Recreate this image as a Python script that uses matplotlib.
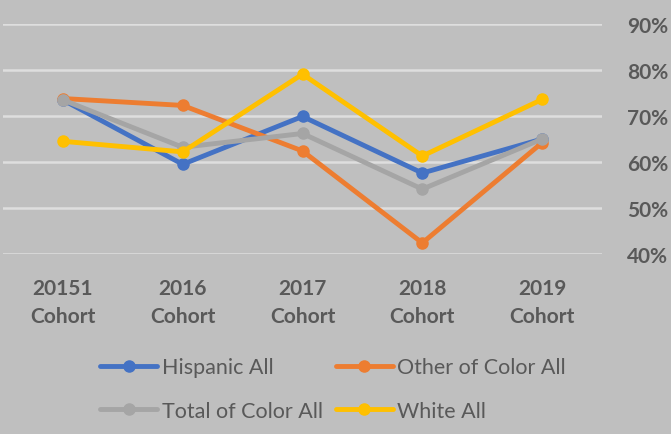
import numpy as np
import matplotlib.pyplot as plt
from matplotlib.ticker import PercentFormatter

# данные графика
cohorts = ['20151\nCohort', '2016\nCohort', '2017\nCohort', '2018\nCohort', '2019\nCohort']
hispanic = [0.735, 0.595, 0.699, 0.576, 0.650]
other_color = [0.738, 0.723, 0.624, 0.424, 0.642]
total_color = [0.735, 0.632, 0.662, 0.541, 0.650]
white = [0.645, 0.622, 0.791, 0.613, 0.736]

series = [
    ('Hispanic All', hispanic, '#4472C4'),
    ('Other of Color All', other_color, '#ED7D31'),
    ('Total of Color All', total_color, '#A5A5A5'),
    ('White All', white, '#FFC000'),
]

bg = '#BFBFBF'
txt = '#595959'

fig = plt.figure(figsize=(6.71, 4.35), dpi=100, facecolor=bg)
ax = fig.add_axes([0.0045, 0.4138, 0.8927, 0.5287], facecolor=bg)

x = np.arange(len(cohorts)) + 0.5
lines = []
for name, vals, col in series:
    ln, = ax.plot(x, vals, color=col, lw=3.5, marker='o', ms=8,
                  solid_capstyle='round', label=name)
    lines.append(ln)

ax.set_xlim(0, len(cohorts))
ax.set_ylim(0.4, 0.9)
ax.set_yticks(np.arange(0.4, 0.91, 0.1))
ax.yaxis.set_major_formatter(PercentFormatter(1.0, decimals=0))
ax.yaxis.tick_right()
ax.grid(axis='y', color='#DEDEDE', lw=1.8)
ax.set_axisbelow(True)
ax.tick_params(axis='y', length=0, pad=18, labelsize=15, labelcolor=txt)
ax.tick_params(axis='x', length=0, pad=17, labelsize=15, labelcolor=txt)
ax.set_xticks(x)
ax.set_xticklabels(cohorts, linespacing=1.5)
for lab in ax.get_xticklabels() + ax.get_yticklabels():
    lab.set_fontfamily('Lato')
    lab.set_fontweight('bold')
for s in ax.spines.values():
    s.set_visible(False)

# легенда по строкам: порядок для двух колонок
order = [0, 2, 1, 3]
leg = fig.legend([lines[i] for i in order], [series[i][0] for i in order],
                 loc='center', bbox_to_anchor=(333 / 671, 1 - 390 / 435),
                 ncol=2, frameon=False, handlelength=2.65, handletextpad=0.2,
                 columnspacing=0.6, labelspacing=1.1,
                 prop={'family': 'Lato', 'size': 15.5})
for t in leg.get_texts():
    t.set_color(txt)

fig.savefig('out.png', dpi=100, facecolor=bg)
